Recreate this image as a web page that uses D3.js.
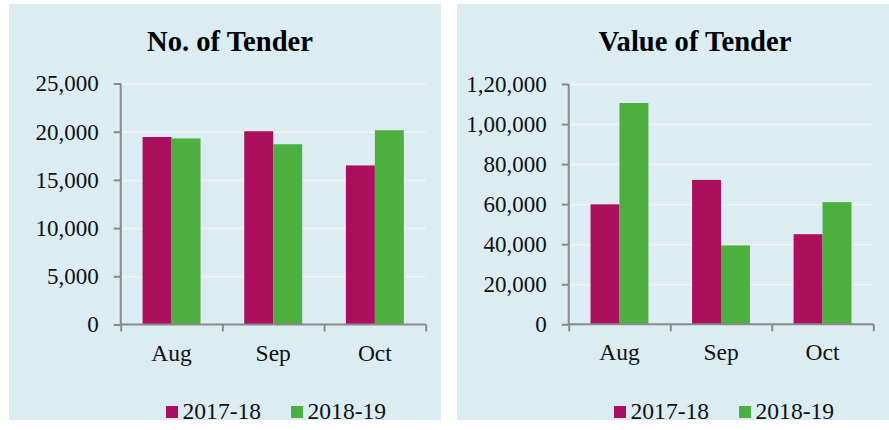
<!DOCTYPE html>
<html>
<head>
<meta charset="utf-8">
<script src="https://cdn.jsdelivr.net/npm/d3@7"></script>
<style>
  html, body { margin: 0; padding: 0; background: #fff; }
  svg { display: block; }
</style>
</head>
<body>
<div id="chart"></div>
<script>
const months = ["Aug", "Sep", "Oct"];
const seriesNames = ["2017-18", "2018-19"];
const seriesColors = ["#ab0f5e", "#4caf3e"];

const tenderCount1718 = [19450, 20050, 16500];
const tenderCount1819 = [19300, 18700, 20150];
const tenderValue1718 = [59900, 72100, 45000];
const tenderValue1819 = [110500, 39400, 61000];

const countTicks = [0, 5000, 10000, 15000, 20000, 25000];
const valueTicks = [0, 20000, 40000, 60000, 80000, 100000, 120000];

const width = 889, height = 430;
const fontFamily = "'Liberation Serif', 'Times New Roman', serif";

// Indian digit grouping, e.g. 1,20,000
const indianFormat = d3.formatLocale({
    decimal: ".", thousands: ",", grouping: [3, 2], currency: ["", ""]
}).format(",d");

const panels = [
    {
        title: "No. of Tender",
        values: [tenderCount1718, tenderCount1819],
        ticks: countTicks,
        box: { x: 9, y: 4, w: 432, h: 416 },
        xRange: [120.7, 425.7],
        yRange: [324.5, 83.5],
        titleX: 230,
        legendX: [166, 291]
    },
    {
        title: "Value of Tender",
        values: [tenderValue1718, tenderValue1819],
        ticks: valueTicks,
        box: { x: 457, y: 4, w: 432, h: 416 },
        xRange: [568.7, 873.3],
        yRange: [324.3, 84],
        titleX: 695,
        legendX: [614, 739]
    }
];

const svg = d3.select("#chart")
    .append("svg")
    .attr("width", width)
    .attr("height", height)
    .attr("viewBox", `0 0 ${width} ${height}`);

panels.forEach(panel => {
    const g = svg.append("g");

    g.append("rect")
        .attr("x", panel.box.x)
        .attr("y", panel.box.y)
        .attr("width", panel.box.w)
        .attr("height", panel.box.h)
        .attr("fill", "#dbedf3");

    g.append("text")
        .attr("x", panel.titleX)
        .attr("y", 51)
        .attr("text-anchor", "middle")
        .style("font-family", fontFamily)
        .style("font-size", "28.6px")
        .style("font-weight", "bold")
        .attr("fill", "#000")
        .text(panel.title);

    const x = d3.scaleBand()
        .domain(months)
        .range(panel.xRange)
        .paddingInner(0.43)
        .paddingOuter(0.215);

    const xSub = d3.scaleBand()
        .domain(seriesNames)
        .range([0, x.bandwidth()]);

    const y = d3.scaleLinear()
        .domain([0, d3.max(panel.ticks)])
        .range(panel.yRange);

    // gridlines
    g.append("g")
        .attr("transform", `translate(${panel.xRange[0]},0)`)
        .call(d3.axisLeft(y).tickValues(panel.ticks.filter(t => t > 0))
            .tickSize(-(panel.xRange[1] - panel.xRange[0])).tickFormat(""))
        .call(a => a.select(".domain").remove())
        .call(a => a.selectAll(".tick line")
            .attr("stroke", "#eef3f2")
            .attr("stroke-width", 2));

    // bars
    const rows = months.map((m, i) => ({
        month: m,
        items: seriesNames.map((s, j) => ({ series: s, value: panel.values[j][i], color: seriesColors[j] }))
    }));

    g.append("g")
        .selectAll("g")
        .data(rows)
        .join("g")
        .attr("transform", d => `translate(${x(d.month)},0)`)
        .selectAll("rect")
        .data(d => d.items)
        .join("rect")
        .attr("x", d => xSub(d.series))
        .attr("y", d => y(d.value))
        .attr("width", xSub.bandwidth())
        .attr("height", d => y(0) - y(d.value))
        .attr("fill", d => d.color);

    // y axis
    g.append("g")
        .attr("transform", `translate(${panel.xRange[0]},0)`)
        .call(d3.axisLeft(y).tickValues(panel.ticks).tickSize(7).tickPadding(15)
            .tickFormat(d => d === 0 ? "0" : indianFormat(d)))
        .call(a => a.select(".domain")
            .attr("stroke", "#898989")
            .attr("stroke-width", 2)
            .attr("d", `M0,${y(d3.max(panel.ticks))}V${y(0)}`))
        .call(a => a.selectAll(".tick line")
            .attr("stroke", "#898989")
            .attr("stroke-width", 2))
        .call(a => a.selectAll(".tick text")
            .style("font-family", fontFamily)
            .style("font-size", "23px")
            .attr("fill", "#111"));

    // x axis: boundary ticks
    const xEdge = d3.scaleLinear().domain([0, months.length]).range(panel.xRange);
    g.append("g")
        .attr("transform", `translate(0,${y(0)})`)
        .call(d3.axisBottom(xEdge).tickValues(d3.range(months.length + 1)).tickSize(7).tickFormat(""))
        .call(a => a.select(".domain")
            .attr("stroke", "#898989")
            .attr("stroke-width", 2)
            .attr("d", `M${panel.xRange[0]},0H${panel.xRange[1]}`))
        .call(a => a.selectAll(".tick line")
            .attr("stroke", "#898989")
            .attr("stroke-width", 2));

    // x axis: category labels
    g.append("g")
        .attr("transform", `translate(0,${y(0)})`)
        .call(d3.axisBottom(x).tickSize(0))
        .call(a => a.select(".domain").remove())
        .call(a => a.selectAll(".tick text")
            .attr("y", 36)
            .attr("dy", null)
            .style("font-family", fontFamily)
            .style("font-size", "23.5px")
            .attr("fill", "#111"));

    // legend
    const legend = g.append("g")
        .selectAll("g")
        .data(seriesNames)
        .join("g")
        .attr("transform", (d, i) => `translate(${panel.legendX[i]},406)`);

    legend.append("rect")
        .attr("width", 12)
        .attr("height", 12)
        .attr("fill", (d, i) => seriesColors[i]);

    legend.append("text")
        .attr("x", 16.5)
        .attr("y", 13)
        .style("font-family", fontFamily)
        .style("font-size", "23.6px")
        .attr("fill", "#111")
        .text(d => d);
});
</script>
</body>
</html>
